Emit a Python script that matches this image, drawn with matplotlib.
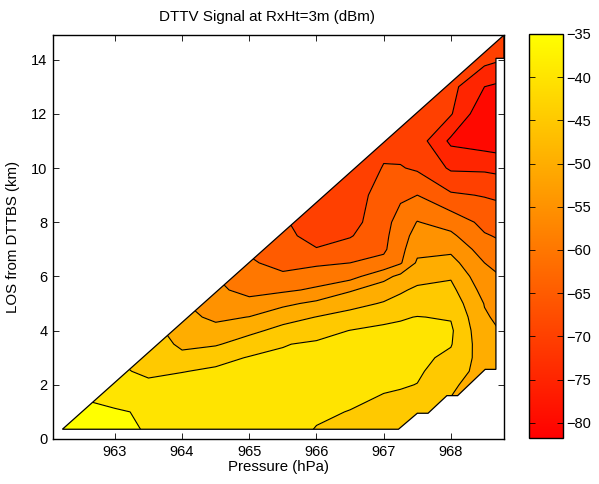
import numpy as np
import matplotlib
matplotlib.use("Agg")
from matplotlib import pyplot as plt
from matplotlib.patches import Polygon
from matplotlib.cm import ScalarMappable
from matplotlib.colors import Normalize

plt.rcParams['font.family'] = ['Liberation Sans', 'DejaVu Sans']

# pressure columns (hPa) and LOS rows (km) of the gridded signal
pressure = [962.0, 962.5, 963.0, 963.5, 964.0, 964.5, 965.0, 965.5,
            966.0, 966.5, 967.0, 967.25, 967.5, 968.0, 968.5, 969.0]
los = [0, 1, 2, 2.5, 3, 3.5, 4, 4.5, 5, 5.5, 6, 6.5, 7, 7.5, 8,
       9, 10, 11, 12, 13, 14, 15]

# signal (dBm), one list per pressure column, values bottom -> top
signal_cols = [
    [-33.5, -34.5, -35.5, -37, -39, -41, -43, -45, -47, -49, -51, -53, -55, -57, -59, -63, -66, -68, -68, -68, -68, -68],
    [-33, -34.3, -35.8, -37.5, -39.5, -41.5, -43.5, -45.5, -47.5, -49.5, -51.5, -53.5, -55.5, -57.5, -59.5, -63, -66, -68, -68, -68, -68, -68],
    [-33.5, -34.5, -38.3, -39, -40, -41.5, -43, -44.5, -46, -48, -50, -52, -54, -56, -58, -62, -65, -67, -68, -68, -68, -68],
    [-35.1, -35.6, -39, -41, -43, -41, -42, -44, -46, -48, -50, -52, -54, -56, -58, -62, -65, -67, -68, -68, -68, -68],
    [-36, -36.6, -38, -40.2, -43.3, -46.3, -48.5, -48.5, -49.5, -51, -53, -55, -57, -59, -61, -64, -66.5, -68, -68, -68, -68, -68],
    [-37, -37.3, -38.3, -39.2, -41.6, -45.5, -48.4, -51, -53, -54, -55, -57, -59, -61, -62.5, -65, -67, -68, -68, -68, -68, -68],
    [-38, -38.3, -38.8, -39.2, -39.7, -42.7, -46.2, -49.9, -53.5, -56.5, -58.8, -59.5, -60.5, -62, -63.5, -66, -67.5, -68, -68, -68, -68, -68],
    [-39, -38.8, -38.7, -38.9, -39.4, -40.2, -43.5, -46.9, -51.1, -55.8, -59.3, -61.2, -62.9, -63.5, -64.3, -66.5, -68, -68.5, -68.5, -68.5, -68.5, -68.5],
    [-40.5, -39.5, -38.7, -38.7, -39.0, -39.4, -41.7, -44.9, -48.9, -54.3, -57.3, -60.9, -64.7, -67, -68, -68.5, -69, -69, -69, -69, -69, -69],
    [-41.5, -40.1, -38.8, -38.6, -38.8, -39.2, -39.9, -43.2, -46.6, -50.5, -56.7, -60, -62.7, -65.4, -67, -68, -69, -69.5, -69.5, -69.5, -69.5, -69.5],
    [-43, -41.5, -39.3, -38.8, -38.6, -38.8, -39.2, -41.0, -44.6, -47.5, -51.5, -58.6, -60.8, -61.2, -61.6, -62.5, -64.7, -66.5, -68.5, -69, -69, -69],
    [-43.5, -42, -39.6, -39.0, -38.7, -38.8, -39.3, -40.3, -43.5, -45.6, -48.8, -55.5, -56.5, -57.3, -58.2, -60.8, -64.7, -67, -69, -69.5, -69.5, -69.5],
    [-44, -42.3, -40.1, -39.3, -38.9, -38.8, -39.1, -39.9, -42, -44.2, -46.6, -49.3, -51.3, -53, -54.8, -60, -65.7, -67.5, -69, -69.5, -69.5, -69.5],
    [-47, -46, -44.2, -42.6, -41, -39.7, -39.3, -40.3, -42, -43.7, -45.5, -48.3, -51, -54, -57, -64.3, -70.7, -76, -69.6, -68.5, -68.5, -68.5],
    [-47.5, -47.5, -47.5, -47, -47.3, -48, -48.8, -49.5, -50.2, -51.8, -53.5, -55, -57.3, -59.6, -61.3, -65.3, -70.8, -77.5, -79, -75, -68.5, -68],
    [-48, -48, -48, -48.5, -49.5, -50.5, -51.5, -52.5, -53.5, -55, -56.5, -58, -60, -61.5, -63, -66.5, -72, -79, -81.8, -77, -71, -69.5],
]

# outline of the measured area (pressure, LOS)
area_p = [962.22, 967.22, 967.5, 967.66, 967.94, 968.1, 968.51, 968.67, 968.67, 968.79, 968.79]
area_los = [0.36, 0.36, 0.95, 0.95, 1.6, 1.6, 2.57, 2.57, 14.05, 14.05, 14.91]

levels = [-90, -80, -75, -70, -65, -60, -55, -50, -45, -40, -35, -30]
cmin, cmax = -81.8, -35

Z = np.array(signal_cols).T
P, L = np.meshgrid(pressure, los)

# band colours like matlab: each band takes the colour of its lower level
cmap = plt.cm.autumn
norm = Normalize(cmin, cmax)
band_cols = [cmap(norm(max(lv, cmin))) for lv in levels[:-1]]

fig = plt.figure(figsize=(5.99, 4.84), dpi=100)
ax = fig.add_axes([53/599, 45/484, 451/599, 404/484])

cf = ax.contourf(P, L, Z, levels=levels, colors=band_cols)
cl = ax.contour(P, L, Z, levels=levels[1:-1], colors='k', linewidths=0.8,
                linestyles='solid')
clip = Polygon(np.column_stack([area_p, area_los]), closed=True,
               facecolor='none', edgecolor='k', lw=0.9, transform=ax.transData)
ax.add_patch(clip)
cf.set_clip_path(clip)
cl.set_clip_path(clip)

ax.set_xlim(962.08, 968.79)
ax.set_ylim(0, 14.91)
ax.set_xticks([963, 964, 965, 966, 967, 968])
ax.set_xticklabels(['963', '964', '965', '966', '967', '968'])
ax.set_yticks([0, 2, 4, 6, 8, 10, 12, 14])
ax.tick_params(direction='in', top=True, right=True, length=4, width=0.6,
               labelsize=10.5, pad=4)
for s in ax.spines.values():
    s.set_linewidth(1.0)
ax.set_xlabel('Pressure (hPa)', fontsize=10.8, labelpad=1)
ax.set_ylabel('LOS from DTTBS (km)', fontsize=10.8, labelpad=8)
ax.set_title('DTTV Signal at RxHt=3m (dBm)', fontsize=10.9, pad=10, x=0.475)

cax = fig.add_axes([529.3/599, 45.7/484, 34/599, 404.3/484])
sm = ScalarMappable(norm=norm, cmap=cmap)
cb = fig.colorbar(sm, cax=cax)
cb.set_ticks([-35, -40, -45, -50, -55, -60, -65, -70, -75, -80])
cb.outline.set_linewidth(1.0)
cax.tick_params(direction='in', left=True, right=True, length=4, width=0.6,
                labelsize=10.5, pad=2)

fig.savefig('out.png', dpi=100)
